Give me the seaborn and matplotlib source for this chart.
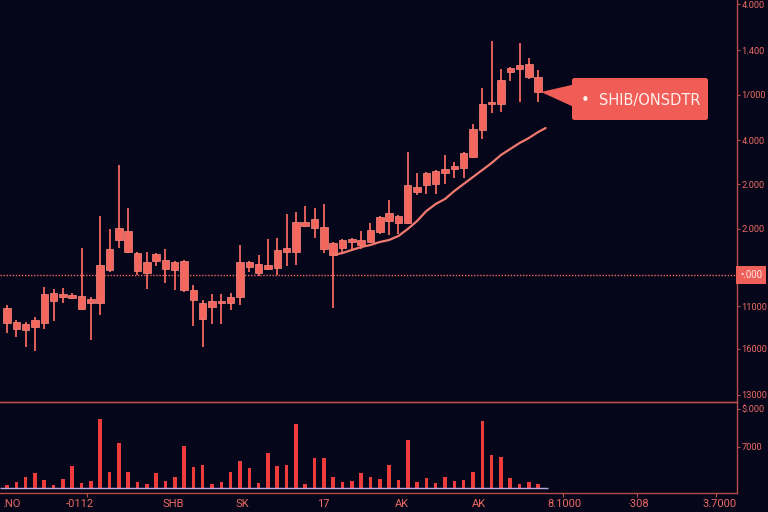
import numpy as np
import pandas as pd
import matplotlib.pyplot as plt
from matplotlib.patches import FancyBboxPatch, Polygon
import matplotlib.transforms as mtransforms
import seaborn as sns

# mum verisi (soldan saga)
opens = [77, 71, 70, 73, 77, 99, 103, 102, 91, 97, 97, 130, 160, 169, 147, 138, 139, 131, 130, 139,
         110, 97, 93, 97, 97, 103, 133, 127, 131, 132, 148, 148, 174, 172, 173, 157, 152, 158, 155, 158,
         168, 179, 177, 177, 208, 215, 216, 227, 231, 232, 243, 270, 296, 296, 328, 331, 336, 323]
closes = [92, 78, 76, 80, 106, 107, 106, 105, 104, 101, 135, 151, 172, 148, 129, 127, 146, 140, 138, 110,
          100, 81, 99, 99, 103, 138, 138, 136, 135, 150, 152, 178, 178, 181, 151, 145, 160, 161, 160, 170,
          183, 187, 184, 215, 213, 227, 229, 231, 234, 247, 271, 296, 298, 320, 332, 335, 323, 308]
highs = [95, 80, 78, 83, 113, 111, 112, 107, 152, 103, 184, 171, 235, 192, 148, 148, 147, 151, 139, 140,
         115, 100, 106, 106, 107, 155, 139, 145, 161, 162, 186, 188, 194, 192, 196, 158, 161, 162, 169, 177,
         184, 200, 185, 248, 227, 228, 230, 245, 238, 248, 276, 312, 359, 331, 333, 357, 342, 330]
lows = [67, 63, 53, 49, 71, 79, 97, 101, 90, 60, 85, 128, 152, 147, 125, 111, 134, 117, 110, 108,
        74, 53, 76, 76, 90, 95, 128, 124, 130, 125, 134, 135, 173, 162, 147, 92, 147, 150, 151, 157,
        166, 165, 166, 176, 205, 206, 206, 216, 222, 222, 242, 261, 287, 288, 319, 298, 321, 298]
volumes = [3, 6, 11, 15, 8, 3, 9, 22, 5, 7, 69, 16, 45, 16, 6, 4, 15, 7, 11, 42,
           21, 23, 4, 6, 16, 27, 20, 5, 35, 22, 23, 64, 4, 30, 30, 11, 6, 7, 15, 11,
           9, 23, 8, 48, 6, 10, 5, 11, 7, 8, 16, 67, 33, 31, 10, 4, 6, 4]

# hareketli ortalama
ma_idx = [35, 36, 37, 38, 39, 40, 41, 42, 43, 44, 45, 46, 47, 48, 49, 50, 51, 52, 53, 54, 55, 56, 57, 57.8]
ma_vals = [145, 147, 150, 153, 155, 158, 160, 164, 171, 179, 189, 196, 201, 209, 216, 223, 230, 237,
           245, 251, 257, 262, 268, 272]

# eksen etiketleri
price_ticks = [396, 350, 305, 260, 216, 171, 94, 51, 5]
price_labels = ['4.000', '1.400', '1/000', '4.000', '2.000', '2.000', '11000', '16000', '13000']
last_price = 125
last_label = '•.000'
vol_ticks = [79, 41]
vol_labels = ['$.000', '7000']
x_ticks = [0.5, 7.8, 17.8, 25.2, 33.9, 42.4, 50.6, 59.8, 67.7, 76.5]
x_labels = ['.NO', '-0112', 'SHB', 'SK', '17', 'AK', 'AK', '8.1000', '·308', '3.7000']
x_marks = [8.6, 59.7, 67.6, 76.1]
pair_name = '•  SHIB/ONSDTR'

bg = '#06061a'
candle = '#f3675f'
vol_color = '#ee3b3b'
txt = '#ec6a62'
spine = '#b44c48'
narrow = ['Roboto', 'DejaVu Sans']

sns.set_theme(style='dark', rc={'axes.facecolor': bg, 'figure.facecolor': bg})
plt.rcParams['font.family'] = ['DejaVu Sans']

fig = plt.figure(figsize=(7.68, 5.12), dpi=100)
ax = fig.add_axes([0, 110 / 512, 737 / 768, 402 / 512])
axv = fig.add_axes([0, 19 / 512, 737 / 768, 91 / 512])
axv.patch.set_alpha(0)

x = np.arange(len(opens))
body_lo = np.minimum(opens, closes)
body_hi = np.maximum(opens, closes)

# fitiller ve gövdeler
ax.vlines(x, lows, highs, color=candle, lw=1.3, zorder=2)
ax.bar(x, body_hi - body_lo, bottom=body_lo, width=0.8, color=candle,
       edgecolor='#ff8a80', lw=0.5, zorder=3)
sns.lineplot(x=ma_idx, y=ma_vals, ax=ax, color='#f07a70', lw=1.6, zorder=4)
ax.axhline(last_price, color=candle, lw=1.0, ls=(0, (1, 1.2)), zorder=1)

ax.set_xlim(-0.75, 78.33)
ax.set_ylim(-2, 400)
ax.set_xticks([])
ax.yaxis.tick_right()
ax.set_yticks(price_ticks, price_labels)
ax.tick_params(axis='y', colors=txt, labelsize=6.7, length=2.5, width=0.8, pad=0.8, direction='out')
ax.tick_params(axis='y', color=spine)
for lab in ax.get_yticklabels():
    lab.set_family(narrow)
for s in ['left', 'top']:
    ax.spines[s].set_visible(False)
for s in ['right', 'bottom']:
    ax.spines[s].set_color(spine)
    ax.spines[s].set_linewidth(1.0)

trans = mtransforms.blended_transform_factory(ax.transAxes, ax.transData)
ax.text(1.004, last_price, last_label, transform=trans, ha='left', va='center', fontsize=7,
        family=narrow, color='#ffe6e3',
        bbox=dict(boxstyle='square,pad=0.4', fc='#f0605a', ec='none'), zorder=6)

# hacim
df_vol = pd.DataFrame({'i': x, 'v': volumes})
sns.barplot(data=df_vol, x='i', y='v', native_scale=True, color=vol_color, saturation=1,
            width=0.38, ax=axv, edgecolor=vol_color, linewidth=0)
axv.hlines(0, -0.75, 58.0, color='#b8a6dc', lw=1.0, zorder=3)
axv.set_xlim(-0.75, 78.33)
axv.set_ylim(-5, 86)
axv.set_xlabel('')
axv.set_ylabel('')
axv.yaxis.tick_right()
axv.set_yticks(vol_ticks, vol_labels)
axv.set_xticks(x_ticks, x_labels)
axv.set_xticks(x_marks, minor=True)
axv.tick_params(axis='y', colors=txt, labelsize=6.7, length=2.5, width=0.8, pad=0.8)
axv.tick_params(axis='y', color=spine)
axv.tick_params(axis='x', which='major', colors=txt, labelsize=8, length=0, pad=4)
axv.tick_params(axis='x', which='minor', color=spine, length=3, width=0.8, bottom=True)
for lab in axv.get_yticklabels() + axv.get_xticklabels():
    lab.set_family(narrow)
axv.spines['left'].set_visible(False)
for s in ['right', 'bottom', 'top']:
    axv.spines[s].set_color(spine)
    axv.spines[s].set_linewidth(1.0)

# etiket kutusu
fig.patches.append(Polygon([(541 / 768, 1 - 92 / 512), (576 / 768, 1 - 84 / 512), (576 / 768, 1 - 108 / 512)],
                           closed=True, transform=fig.transFigure, fc='#f05d57', ec='none'))
fig.patches.append(FancyBboxPatch((572 / 768, 1 - 120 / 512), 136 / 768, 42 / 512,
                                  boxstyle='round,pad=0,rounding_size=0.004',
                                  transform=fig.transFigure, fc='#f05d57', ec='none'))
fig.text(641 / 768, 1 - 100 / 512, pair_name, ha='center', va='center', color='#fff0ee', fontsize=10.5)

plt.savefig('out.png', dpi=100, facecolor=bg)
plt.close()
